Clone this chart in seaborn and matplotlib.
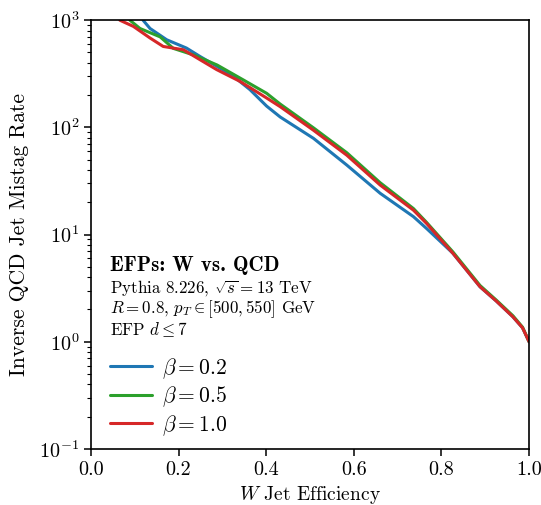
"""Inverse QCD mistag rate vs W efficiency for EFP classifiers."""

import numpy as np
import pandas as pd
import matplotlib
matplotlib.use("Agg")
from matplotlib import pyplot as plt
import seaborn as sns

# W efficiency / inverse mistag rate
eff_b02 = [0.119, 0.135, 0.173, 0.218, 0.249, 0.326, 0.340, 0.363, 0.401, 0.432,
           0.508, 0.584, 0.660, 0.736, 0.766, 0.826, 0.888, 0.925, 0.963, 0.985, 1.0]
inv_b02 = [1000, 837, 657, 550, 459, 300, 268, 225, 158, 125,
           79, 44.5, 24.3, 14.7, 11.4, 6.7, 3.26, 2.4, 1.71, 1.35, 1.0]

eff_b05 = [0.089, 0.112, 0.158, 0.188, 0.235, 0.288, 0.348, 0.401, 0.432, 0.508,
           0.584, 0.660, 0.736, 0.766, 0.826, 0.888, 0.925, 0.963, 0.985, 1.0]
inv_b05 = [1000, 837, 699, 546, 473, 382, 277, 208, 165, 99,
           58, 30.5, 17.5, 13.0, 6.9, 3.35, 2.45, 1.75, 1.37, 1.0]

eff_b10 = [0.066, 0.097, 0.135, 0.165, 0.211, 0.249, 0.287, 0.340, 0.401, 0.432,
           0.508, 0.584, 0.660, 0.736, 0.766, 0.826, 0.888, 0.925, 0.963, 0.985, 1.0]
inv_b10 = [1000, 875, 682, 569, 530, 428, 346, 269, 188, 156,
           94, 55, 29, 16.9, 12.7, 6.7, 3.26, 2.4, 1.71, 1.35, 1.0]

labels = [r"$\beta = 0.2$", r"$\beta = 0.5$", r"$\beta = 1.0$"]
colors = ["tab:blue", "tab:green", "tab:red"]

frames = []
for lab, xs, ys in zip(labels, [eff_b02, eff_b05, eff_b10], [inv_b02, inv_b05, inv_b10]):
    frames.append(pd.DataFrame({"eff": xs, "inv": ys, "beta": lab}))
df = pd.concat(frames, ignore_index=True)

sns.set_style("ticks")
plt.rcParams["font.family"] = "serif"
plt.rcParams["font.serif"] = ["cmr10"]
plt.rcParams["mathtext.fontset"] = "cm"
plt.rcParams["axes.formatter.use_mathtext"] = True
plt.rcParams["axes.unicode_minus"] = False
for key in ["text.color", "axes.labelcolor", "xtick.color", "ytick.color",
            "axes.edgecolor"]:
    plt.rcParams[key] = "black"

fig = plt.figure(figsize=(5.41, 5.05), dpi=100)
ax = fig.add_axes([0.168, 0.111, 0.81, 0.849])

sns.lineplot(
    data=df, x="eff", y="inv", hue="beta", palette=dict(zip(labels, colors)),
    estimator=None, sort=False, linewidth=2.2, ax=ax,
)

ax.set_yscale("log")
ax.set_xlim(0, 1)
ax.set_ylim(0.1, 1000)
ax.set_xticks([0.0, 0.2, 0.4, 0.6, 0.8, 1.0])
ax.set_xticklabels(["0.0", "0.2", "0.4", "0.6", "0.8", "1.0"])
ax.set_xlabel(r"$W$ Jet Efficiency", fontsize=14, labelpad=4)
ax.set_ylabel("Inverse QCD Jet Mistag Rate", fontsize=15.5, labelpad=7)
ax.tick_params(axis="both", which="major", labelsize=14.5, length=5, width=1.1)
ax.tick_params(axis="y", which="minor", length=3, width=0.8)
for sp in ax.spines.values():
    sp.set_linewidth(1.2)

# annotation block
ax.text(0.043, 0.427, "EFPs: W vs. QCD", fontname="cmb10", transform=ax.transAxes,
        fontsize=15, va="center", ha="left")
ax.text(0.043, 0.376, r"Pythia 8.226, $\sqrt{s} = 13$ TeV", transform=ax.transAxes,
        fontsize=12.2, va="center", ha="left")
ax.text(0.043, 0.327, r"$R = 0.8$, $p_T \in [500, 550]$ GeV", transform=ax.transAxes,
        fontsize=12.2, va="center", ha="left")
ax.text(0.043, 0.279, r"EFP $d \leq 7$", transform=ax.transAxes,
        fontsize=12.2, va="center", ha="left")

ax.legend(loc="lower left", bbox_to_anchor=(0.0, -0.019), frameon=False,
          fontsize=15.5, handlelength=1.95, handletextpad=0.45,
          labelspacing=0.18, title=None)

fig.savefig("out.png", dpi=100)
